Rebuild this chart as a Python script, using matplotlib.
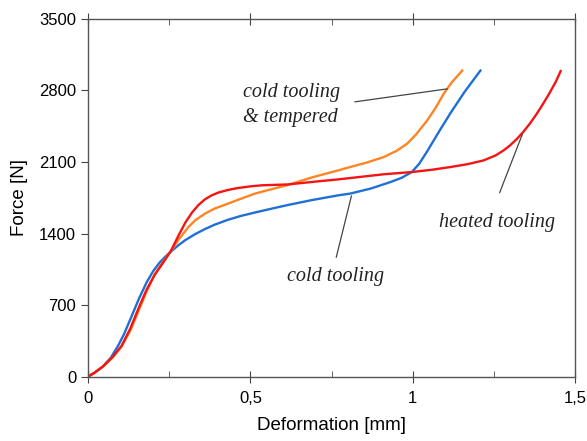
import matplotlib.pyplot as plt
from matplotlib.ticker import FixedLocator

# force-deformation curves, deformation in mm, force in N
cold_x = [0, 0.02, 0.046, 0.07, 0.092, 0.11, 0.134, 0.157, 0.18, 0.20, 0.22, 0.24,
          0.26, 0.28, 0.30, 0.33, 0.36, 0.39, 0.431, 0.47, 0.514, 0.56, 0.616,
          0.69, 0.77, 0.807, 0.87, 0.931, 0.965, 0.997, 1.02, 1.044, 1.08, 1.116,
          1.16, 1.208]
cold_f = [0, 38, 100, 185, 300, 410, 590, 765, 920, 1030, 1115, 1180,
          1237, 1290, 1337, 1395, 1444, 1487, 1535, 1572, 1606, 1640, 1680,
          1728, 1774, 1791, 1840, 1904, 1945, 2002, 2085, 2204, 2395, 2580,
          2790, 2995]

tempered_x = [0, 0.02, 0.046, 0.075, 0.103, 0.13, 0.155, 0.18, 0.205, 0.23, 0.255,
              0.28, 0.308, 0.33, 0.36, 0.39, 0.431, 0.47, 0.514, 0.56, 0.612, 0.69,
              0.77, 0.807, 0.86, 0.91, 0.95, 0.982, 1.01, 1.044, 1.07, 1.095, 1.12,
              1.152]
tempered_f = [0, 38, 98, 185, 293, 450, 640, 830, 1000, 1120, 1230,
              1345, 1460, 1530, 1595, 1645, 1693, 1740, 1791, 1830, 1872, 1950,
              2018, 2051, 2097, 2148, 2210, 2279, 2370, 2507, 2630, 2768, 2880,
              2995]

heated_x = [0, 0.02, 0.046, 0.075, 0.103, 0.13, 0.155, 0.18, 0.205, 0.23, 0.255,
            0.28, 0.30, 0.32, 0.34, 0.36, 0.38, 0.40, 0.43, 0.46, 0.50, 0.534,
            0.57, 0.612, 0.66, 0.705, 0.77, 0.84, 0.91, 0.997, 1.06, 1.116, 1.17,
            1.218, 1.255, 1.28, 1.30, 1.32, 1.34, 1.36, 1.38, 1.40, 1.42, 1.44,
            1.455]
heated_f = [0, 38, 100, 190, 300, 470, 665, 850, 995, 1110, 1230,
            1390, 1510, 1605, 1680, 1735, 1773, 1800, 1826, 1845, 1862, 1872,
            1876, 1880, 1895, 1910, 1930, 1955, 1980, 2002, 2025, 2051, 2080,
            2116, 2165, 2215, 2265, 2325, 2395, 2475, 2565, 2665, 2770, 2885,
            2990]

x_ticks = [0, 0.5, 1.0, 1.5]
x_tick_labels = ["0", "0,5", "1", "1,5"]
y_ticks = [0, 700, 1400, 2100, 2800, 3500]

plt.rcParams["font.family"] = ["Liberation Sans", "DejaVu Sans"]

fig = plt.figure(figsize=(5.87, 4.41), dpi=100)
ax = fig.add_axes([0.150, 0.146, 0.830, 0.811])

ax.plot(cold_x, cold_f, color="#1f6fd6", lw=1.7)
ax.plot(tempered_x, tempered_f, color="#ff8424", lw=1.7)
ax.plot(heated_x, heated_f, color="#f41414", lw=1.7)

ax.set_xlim(0, 1.5)
ax.set_ylim(0, 3500)
ax.set_xticks(x_ticks)
ax.set_xticklabels(x_tick_labels)
ax.xaxis.set_minor_locator(FixedLocator([0.25, 0.75, 1.25]))
ax.set_yticks(y_ticks)

ax.tick_params(axis="x", which="major", direction="inout", length=9, top=True,
               labelsize=12, pad=6, color="#444444")
ax.tick_params(axis="x", which="minor", direction="in", length=4, top=True,
               color="#444444")
ax.tick_params(axis="y", which="major", direction="out", length=5,
               labelsize=12, color="#444444")
for s in ax.spines.values():
    s.set_color("#555555")
    s.set_linewidth(1.0)

ax.set_xlabel("Deformation [mm]", fontsize=13.5, labelpad=8)
ax.set_ylabel("Force [N]", fontsize=13.5, labelpad=8)

note = dict(family="Liberation Serif", style="italic", fontsize=14.5, color="#222222")
line = dict(arrowstyle="-", color="#444444", lw=0.9)

ax.text(0.477, 2660, "cold tooling\n& tempered", ha="left", va="center",
        linespacing=1.4, **note)
ax.annotate("", xy=(1.115, 2820), xytext=(0.813, 2685), arrowprops=line)
ax.text(0.761, 980, "cold tooling", ha="center", va="center", **note)
ax.annotate("", xy=(0.813, 1795), xytext=(0.762, 1140), arrowprops=line)
ax.text(1.26, 1510, "heated tooling", ha="center", va="center", **note)
ax.annotate("", xy=(1.34, 2395), xytext=(1.264, 1774), arrowprops=line)

fig.savefig("out.png", dpi=100)
